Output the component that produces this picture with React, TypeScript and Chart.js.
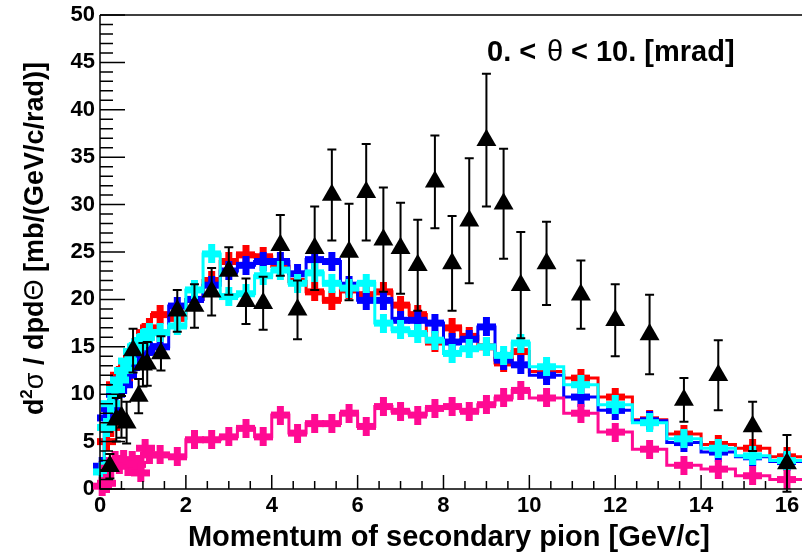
import React, { useEffect, useRef } from "react";
import { Chart, registerables } from "chart.js";
Chart.register(...registerables);

// ---------- data ----------
const binEdges = [
  0, 0.1, 0.2, 0.3, 0.4, 0.5, 0.6, 0.7, 0.8, 0.9, 1.0, 1.1, 1.2,
  1.6, 2.0, 2.4, 2.8, 3.2, 3.6, 4.0, 4.4, 4.8, 5.2, 5.6, 6.0, 6.4, 6.8, 7.2, 7.6, 8.0, 8.4, 8.8, 9.2, 9.6, 10.0,
  10.8, 11.6, 12.4, 13.2, 14.0, 14.8, 15.6, 16.4,
];
const redValues = [
  2.0, 5.0, 6.5, 11.0, 12.0, 11.5, 13.0, 14.0, 14.5, 15.5, 16.5, 17.0,
  18.4, 18.0, 20.0, 22.0, 24.0, 24.7, 24.5, 23.5, 21.9, 20.8, 19.9, 21.0, 20.5, 20.8, 19.4, 18.4, 15.5, 17.0, 16.1, 15.0, 13.3, 14.5,
  12.4, 11.7, 9.7, 7.3, 5.8, 4.7, 4.3, 3.4,
];
const blueValues = [
  2.4, 7.5, 8.5, 10.0, 11.5, 11.0, 12.0, 13.0, 13.5, 14.0, 14.5, 15.0,
  15.0, 19.3, 20.0, 21.5, 23.0, 23.6, 24.0, 24.0, 22.7, 24.2, 24.0, 21.5, 19.9, 19.9, 17.8, 17.8, 17.5, 15.5, 15.8, 17.1, 13.6, 13.1,
  12.0, 9.7, 8.3, 7.2, 4.9, 3.9, 3.4, 2.9,
];
const cyanValues = [
  1.8, 6.5, 9.0, 10.5, 11.5, 12.5, 13.5, 14.5, 15.0, 15.5, 16.0, 16.5,
  16.5, 17.2, 21.0, 24.8, 20.3, 20.6, 22.5, 23.1, 21.7, 22.8, 21.7, 21.2, 21.7, 17.5, 16.8, 16.4, 15.7, 14.3, 14.8, 15.0, 14.1, 15.4,
  12.9, 11.0, 8.9, 7.0, 5.3, 4.3, 3.5, 3.0,
];
const magentaValues = [
  0.3, 0.6, 2.2, 3.0, 2.6, 3.1, 2.4, 3.0, 2.6, 1.7, 4.3, 3.6,
  3.6, 3.4, 5.2, 5.2, 5.5, 6.4, 5.5, 7.8, 5.9, 6.9, 6.9, 8.0, 6.6, 8.7, 8.2, 7.8, 8.5, 8.7, 8.2, 8.9, 9.6, 10.4,
  9.6, 8.0, 6.0, 4.2, 2.5, 2.1, 1.4, 1.0,
];

const dataMomentum = [
  0.23, 0.38, 0.5, 0.62, 0.77, 0.9, 1.0, 1.1, 1.42, 1.8,
  2.2, 2.6, 3.0, 3.4, 3.8, 4.2, 4.6, 5.0, 5.4, 5.8,
  6.2, 6.6, 7.0, 7.4, 7.8, 8.2, 8.6, 9.0, 9.4, 9.8,
  10.4, 11.2, 12.0, 12.8, 13.6, 14.4, 15.2, 16.0,
];
const dataValues = [
  2.4, 7.3, 7.6, 7.0, 14.6, 9.8, 13.1, 13.2, 14.3, 18.8,
  19.3, 20.8, 23.0, 19.8, 19.6, 25.7, 18.9, 25.4, 31.0, 25.0,
  31.3, 26.3, 25.4, 23.6, 32.4, 23.8, 28.3, 36.8, 30.1, 21.5,
  23.8, 20.5, 17.8, 16.3, 9.4, 12.0, 6.6, 2.7,
];
const dataErrors = [
  1.3, 2.3, 2.2, 2.2, 2.3, 1.8, 2.3, 2.3, 1.8, 2.2,
  2.3, 2.5, 2.5, 2.4, 2.8, 3.2, 3.1, 4.4, 4.8, 5.1,
  5.1, 5.5, 4.8, 4.8, 4.9, 5.0, 6.6, 7.0, 5.8, 5.6,
  4.4, 3.6, 3.8, 4.2, 2.3, 3.7, 2.6, 3.0,
];

const xTickValues = [0, 2, 4, 6, 8, 10, 12, 14, 16];
const yTickValues = [0, 5, 10, 15, 20, 25, 30, 35, 40, 45, 50];

const X_MIN = 0;
const X_MAX = 16.35;
const Y_MIN = 0;
const Y_MAX = 50;

const FONT = '"Liberation Sans", Arial, Helvetica, sans-serif';
const COLORS = {
  red: "#ff0000",
  blue: "#0000ff",
  cyan: "#00ffff",
  magenta: "#ff0a93",
};

// ---------- helpers ----------
function makeCross(color: string, size = 19, arm = 7) {
  const c = document.createElement("canvas");
  c.width = size;
  c.height = size;
  const g = c.getContext("2d")!;
  g.fillStyle = color;
  const o = (size - arm) / 2;
  g.fillRect(o, 0, arm, size);
  g.fillRect(0, o, size, arm);
  return c;
}

function stepPoints(values: number[]) {
  const pts: { x: number; y: number }[] = [];
  values.forEach((v, i) => {
    pts.push({ x: binEdges[i], y: v });
    pts.push({ x: binEdges[i + 1], y: v });
  });
  return pts;
}

function centerPoints(values: number[]) {
  return values.map((v, i) => ({ x: (binEdges[i] + binEdges[i + 1]) / 2, y: v }));
}

const rootPlugin = {
  id: "rootDecor",
  afterDatasetsDraw(chart: any) {
    const ctx = chart.ctx;
    const xs = chart.scales.x;
    const ys = chart.scales.y;
    ctx.save();
    ctx.strokeStyle = "#000";
    ctx.lineWidth = 2;
    dataMomentum.forEach((p, i) => {
      const x = xs.getPixelForValue(p);
      const yt = ys.getPixelForValue(dataValues[i] + dataErrors[i]);
      const yb = ys.getPixelForValue(dataValues[i] - dataErrors[i]);
      ctx.beginPath();
      ctx.moveTo(x, yt);
      ctx.lineTo(x, yb);
      ctx.moveTo(x - 4.5, yt);
      ctx.lineTo(x + 4.5, yt);
      ctx.moveTo(x - 4.5, yb);
      ctx.lineTo(x + 4.5, yb);
      ctx.stroke();
    });
    ctx.restore();
  },
  afterDraw(chart: any) {
    const ctx = chart.ctx;
    const { left, right, top, bottom } = chart.chartArea;
    const xs = chart.scales.x;
    const ys = chart.scales.y;
    ctx.save();
    ctx.strokeStyle = "#000";
    ctx.lineWidth = 1.5;
    // frame
    ctx.beginPath();
    ctx.moveTo(left, top);
    ctx.lineTo(right + 2, top);
    ctx.moveTo(left, top);
    ctx.lineTo(left, bottom);
    ctx.lineTo(right + 2, bottom);
    ctx.stroke();
    // y ticks
    ctx.beginPath();
    for (let v = Y_MIN; v <= Y_MAX + 1e-6; v += 1) {
      const len = Math.abs(v % 5) < 1e-6 ? 25 : 13;
      const y = ys.getPixelForValue(v);
      ctx.moveTo(left, y);
      ctx.lineTo(left + len, y);
    }
    // x ticks
    for (let k = 0; k * 0.5 <= X_MAX + 1e-6; k++) {
      const v = k * 0.5;
      const len = k % 4 === 0 ? 14 : 8;
      const x = xs.getPixelForValue(v);
      ctx.moveTo(x, bottom);
      ctx.lineTo(x, bottom - len);
    }
    ctx.stroke();

    ctx.fillStyle = "#000";
    ctx.textBaseline = "alphabetic";
    // x title
    ctx.font = `bold 29px ${FONT}`;
    ctx.textAlign = "right";
    ctx.fillText("Momentum of secondary pion [GeV/c]", 710, 546);

    // annotation
    ctx.textAlign = "left";
    ctx.font = `bold 29px ${FONT}`;
    ctx.fillText("0. <", 487, 61);
    ctx.font = `29px ${FONT}`;
    ctx.fillText("\u03b8", 547, 61);
    ctx.font = `bold 29px ${FONT}`;
    ctx.fillText("< 10. [mrad]", 571, 61);

    // y title (rotated, anchored at top end)
    const fs = 27;
    const parts: { t: string; f: string; dy: number }[] = [
      { t: "d", f: `bold ${fs}px ${FONT}`, dy: 0 },
      { t: "2", f: `bold ${Math.round(fs * 0.62)}px ${FONT}`, dy: -11 },
      { t: "\u03c3", f: `${fs}px ${FONT}`, dy: 0 },
      { t: " / dpd", f: `bold ${fs}px ${FONT}`, dy: 0 },
      { t: "\u0398", f: `${fs}px ${FONT}`, dy: 0 },
      { t: " [mb/(GeV/c/rad)]", f: `bold ${fs}px ${FONT}`, dy: 0 },
    ];
    let total = 0;
    const widths = parts.map((p) => {
      ctx.font = p.f;
      const w = ctx.measureText(p.t).width;
      total += w;
      return w;
    });
    ctx.translate(43, 62);
    ctx.rotate(-Math.PI / 2);
    let xx = -total;
    parts.forEach((p, i) => {
      ctx.font = p.f;
      ctx.fillText(p.t, xx, p.dy);
      xx += widths[i];
    });
    ctx.restore();
  },
};

export default function App() {
  const ref = useRef<HTMLCanvasElement | null>(null);
  useEffect(() => {
    if (!ref.current) return;
    const crosses = {
      red: makeCross(COLORS.red),
      blue: makeCross(COLORS.blue),
      cyan: makeCross(COLORS.cyan),
      magenta: makeCross(COLORS.magenta),
    };
    const series: { key: keyof typeof COLORS; values: number[]; order: number }[] = [
      { key: "red", values: redValues, order: 8 },
      { key: "blue", values: blueValues, order: 6 },
      { key: "cyan", values: cyanValues, order: 4 },
      { key: "magenta", values: magentaValues, order: 2 },
    ];
    const datasets: any[] = [];
    series.forEach((s) => {
      datasets.push({
        type: "line",
        data: stepPoints(s.values),
        borderColor: COLORS[s.key],
        borderWidth: 3,
        pointRadius: 0,
        fill: false,
        tension: 0,
        order: s.order + 1,
      });
      datasets.push({
        type: "line",
        data: centerPoints(s.values),
        showLine: false,
        pointStyle: crosses[s.key],
        pointRadius: 9,
        clip: false,
        order: s.order,
      });
    });
    datasets.push({
      type: "line",
      data: dataMomentum.map((p, i) => ({ x: p, y: dataValues[i] })),
      showLine: false,
      pointStyle: "triangle",
      pointRadius: 11.5,
      backgroundColor: "#000",
      borderColor: "#000",
      borderWidth: 0,
      clip: false,
      order: 0,
    });

    const tickFont = { family: FONT, size: 22, weight: "bold" as const };
    const chart = new Chart(ref.current, {
      type: "line",
      data: { datasets },
      options: {
        animation: false,
        responsive: false,
        events: [],
        layout: { autoPadding: false, padding: { top: 15, right: 0, left: 0, bottom: 0 } },
        plugins: { legend: { display: false }, tooltip: { enabled: false } },
        scales: {
          x: {
            type: "linear",
            min: X_MIN,
            max: X_MAX,
            grid: { display: false, drawTicks: false },
            border: { display: false },
            ticks: {
              font: tickFont,
              color: "#000",
              padding: 4,
              maxRotation: 0,
              autoSkip: false,
              includeBounds: false,
            },
            afterBuildTicks: (scale: any) => {
              scale.ticks = xTickValues.map((v) => ({ value: v }));
            },
            afterFit: (scale: any) => {
              scale.height = 64;
              scale.paddingRight = 0;
              scale.paddingLeft = 0;
            },
          },
          y: {
            type: "linear",
            min: Y_MIN,
            max: Y_MAX,
            grid: { display: false, drawTicks: false },
            border: { display: false },
            ticks: { font: tickFont, color: "#000", padding: 5 },
            afterBuildTicks: (scale: any) => {
              scale.ticks = yTickValues.map((v) => ({ value: v }));
            },
            afterFit: (scale: any) => {
              scale.width = 100;
              scale.paddingTop = 0;
              scale.paddingBottom = 0;
            },
          },
        },
      },
      plugins: [rootPlugin],
    });
    return () => chart.destroy();
  }, []);

  return (
    <div style={{ position: "absolute", left: 0, top: 0, width: 802, height: 553, background: "#fff" }}>
      <canvas ref={ref} width={802} height={553} style={{ display: "block" }} />
    </div>
  );
}
